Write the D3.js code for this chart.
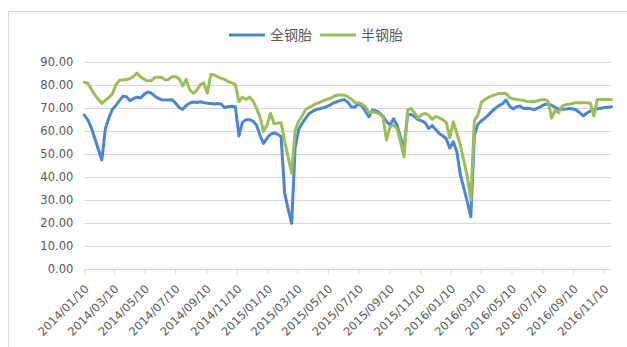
<!DOCTYPE html>
<html>
<head>
<meta charset="utf-8">
<script src="https://cdn.jsdelivr.net/npm/d3@7/dist/d3.min.js"></script>
<style>
  html, body { margin: 0; padding: 0; background: #fff; }
  svg { display: block; }
  text { font-family: "DejaVu Sans", "Noto Sans CJK SC", sans-serif; fill: #595959; }
</style>
</head>
<body>
<svg id="chart" width="627" height="347"></svg>
<script>
// Weekly series, first observation on 2014/01/10
const startDate = "2014-01-10";

const seriesNames = ["全钢胎", "半钢胎"];
const seriesColors = ["#4A86D5", "#9BBF57"];

// 全钢胎 开工率 (%)
const allSteel = [
  66.8, 64.7, 61.3, 56.6, 51.8, 47.3, 61.0, 65.5, 69.3, 71.0,
  73.1, 75.0, 74.8, 73.0, 74.0, 74.6, 74.2, 75.7, 76.8, 76.4,
  75.1, 74.1, 73.5, 73.4, 73.4, 73.5, 71.9, 70.1, 69.3, 71.0,
  72.0, 72.5, 72.3, 72.6, 72.2, 71.9, 71.8, 71.6, 71.8, 71.5,
  70.0, 70.5, 70.6, 70.4, 57.7, 63.6, 64.8, 64.8, 64.2, 62.5,
  58.0, 54.5, 56.7, 58.5, 59.0, 58.5, 57.4, 33.0, 26.0, 19.7,
  52.5, 60.5, 63.2, 65.5, 67.5, 68.5, 69.2, 69.6, 70.0, 70.4,
  71.2, 72.2, 72.6, 73.2, 73.5, 72.4, 70.3, 70.3, 71.6, 70.8,
  68.5, 66.0, 69.0, 68.6, 67.8, 66.2, 64.0, 62.5, 65.2, 62.5,
  57.0, 52.3, 66.8, 67.1, 66.0, 64.8, 64.3, 63.4, 61.0, 62.2,
  60.5, 58.8, 57.8, 56.5, 52.5, 55.2, 51.0, 41.0, 35.0, 29.0,
  22.6, 58.0, 62.8, 64.3, 65.4, 66.9, 68.4, 69.8, 70.9, 71.7,
  73.3, 70.7, 69.5, 70.4, 70.7, 69.7, 69.7, 69.6, 69.1, 69.8,
  70.6, 71.4, 71.7, 71.0, 70.2, 69.3, 69.3, 69.4, 69.6, 69.5,
  69.0, 67.8, 66.4, 67.7, 68.6, 69.1, 69.5, 69.8, 70.1, 70.2,
  70.4
];

// 半钢胎 开工率 (%)
const semiSteel = [
  81.0, 80.6, 78.0, 75.5, 73.7, 71.9, 73.2, 74.5, 76.0, 80.0,
  81.9, 82.1, 82.2, 82.7, 83.6, 85.0, 83.4, 82.4, 81.7, 81.7,
  83.1, 83.2, 83.2, 82.2, 82.3, 83.5, 83.5, 82.6, 79.5, 82.3,
  77.8, 76.3, 77.5, 80.0, 80.8, 76.3, 84.5, 84.2, 83.4, 82.7,
  82.3, 81.3, 80.8, 80.0, 72.6, 74.6, 73.5, 74.6, 73.0, 69.7,
  66.0, 59.6, 62.5, 67.6, 63.0, 63.3, 63.5, 55.5, 48.5, 41.5,
  60.3, 64.0, 66.5, 69.2, 70.2, 70.9, 71.8, 72.3, 73.0, 73.6,
  74.1, 74.9, 75.5, 75.5, 75.4, 74.8, 73.7, 72.3, 72.1, 71.6,
  70.3, 67.7, 68.2, 67.9, 67.3, 66.0, 56.0, 61.7, 62.5, 61.0,
  55.0, 48.7, 69.0, 69.7, 67.8, 65.5, 67.0, 67.5, 66.7, 65.0,
  66.2, 65.6, 64.8, 63.5, 57.0, 63.9, 58.9, 53.8, 47.0, 40.0,
  29.9, 64.5, 66.8, 72.3, 73.6, 74.5, 75.2, 75.7, 76.2, 76.2,
  76.2, 74.4, 73.9, 73.6, 73.4, 73.1, 72.7, 72.6, 72.6, 73.0,
  73.4, 73.6, 72.8, 65.4, 69.0, 67.8, 70.7, 71.3, 71.5, 71.9,
  72.2, 72.2, 72.2, 72.1, 72.0, 66.4, 73.6, 73.6, 73.6, 73.6,
  73.6
];

const yTicks = [0, 10, 20, 30, 40, 50, 60, 70, 80, 90];
const xTickLabels = [
  "2014/01/10", "2014/03/10", "2014/05/10", "2014/07/10", "2014/09/10", "2014/11/10",
  "2015/01/10", "2015/03/10", "2015/05/10", "2015/07/10", "2015/09/10", "2015/11/10",
  "2016/01/10", "2016/03/10", "2016/05/10", "2016/07/10", "2016/09/10", "2016/11/10"
];

const parseDay = d3.timeParse("%Y-%m-%d");
const parseTick = d3.timeParse("%Y/%m/%d");
const t0 = parseDay(startDate);
const dates = allSteel.map((_, i) => d3.timeDay.offset(t0, 7 * i));

const svg = d3.select("#chart");
const plot = { left: 84.3, right: 611.4, top: 61.7, bottom: 268.7 };

// chart frame
svg.append("rect")
  .attr("x", 8.5).attr("y", 11.5)
  .attr("width", 640).attr("height", 360)
  .attr("fill", "none").attr("stroke", "#d9d9d9").attr("stroke-width", 1);

const x = d3.scaleTime()
  .domain([dates[0], dates[dates.length - 1]])
  .range([plot.left, plot.right]);

const y = d3.scaleLinear()
  .domain([0, 90])
  .range([plot.bottom, plot.top]);

// horizontal gridlines
svg.append("g")
  .selectAll("line")
  .data(yTicks.filter(v => v > 0))
  .join("line")
  .attr("x1", plot.left).attr("x2", plot.right)
  .attr("y1", d => Math.round(y(d)) + 0.5).attr("y2", d => Math.round(y(d)) + 0.5)
  .attr("stroke", "#d9d9d9").attr("stroke-width", 1);

// y axis labels
const yAxis = d3.axisLeft(y)
  .tickValues(yTicks)
  .tickSize(0)
  .tickPadding(11)
  .tickFormat(d3.format(".2f"));
const gy = svg.append("g").attr("transform", `translate(${plot.left},0)`).call(yAxis);
gy.select(".domain").remove();
gy.selectAll("text")
  .style("font-size", "11.5px")
  .attr("fill", "#595959");

// x axis with rotated date labels
const xTickDates = xTickLabels.map(parseTick);
const xAxis = d3.axisBottom(x)
  .tickValues(xTickDates)
  .tickSize(5)
  .tickSizeOuter(0)
  .tickFormat(d3.timeFormat("%Y/%m/%d"));
const gx = svg.append("g")
  .attr("transform", `translate(0,${Math.round(plot.bottom) + 0.5})`)
  .call(xAxis);
gx.select(".domain")
  .attr("d", `M${plot.left},0H${plot.right}`)
  .attr("stroke", "#d9d9d9");
gx.selectAll(".tick line").attr("stroke", "#d9d9d9");
gx.selectAll("text")
  .style("font-size", "11.5px")
  .attr("fill", "#595959")
  .attr("text-anchor", "end")
  .attr("dy", null)
  .attr("y", 0)
  .attr("transform", "translate(5,20) rotate(-45)");

// series lines
const line = d3.line()
  .x((d, i) => x(dates[i]))
  .y(d => y(d));

[allSteel, semiSteel].forEach((vals, k) => {
  svg.append("path")
    .datum(vals)
    .attr("d", line)
    .attr("fill", "none")
    .attr("stroke", seriesColors[k])
    .attr("stroke-width", 3)
    .attr("stroke-linejoin", "round")
    .attr("stroke-linecap", "round");
});

// legend
const legend = svg.append("g").attr("transform", "translate(229,35)");
const legendPos = [0, 91];
seriesNames.forEach((name, k) => {
  const g = legend.append("g").attr("transform", `translate(${legendPos[k]},0)`);
  g.append("line")
    .attr("x1", 0).attr("x2", 36).attr("y1", 0).attr("y2", 0)
    .attr("stroke", seriesColors[k]).attr("stroke-width", 3);
  g.append("text")
    .attr("x", 41).attr("y", 0).attr("dy", "0.36em")
    .style("font-size", "14px")
    .style("font-family", "'Noto Sans CJK SC', sans-serif")
    .text(name);
});
</script>
</body>
</html>
